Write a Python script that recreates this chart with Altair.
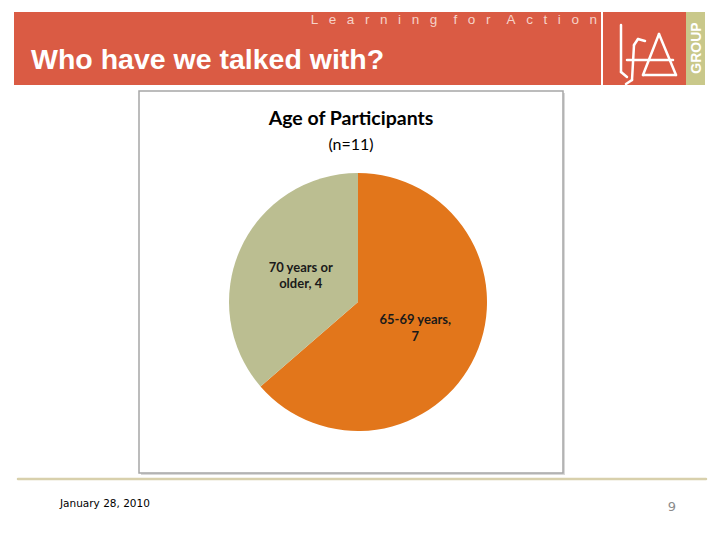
import altair as alt
import pandas as pd

# ---- data ----
categories = ["65-69 years", "70 years or older"]
counts = [7, 4]
labels = ["65-69 years,\n7", "70 years or\nolder, 4"]
colors = ["#E2761B", "#BBBE91"]

slide_title = "Who have we talked with?"
brand = "Learning for Action"
chart_title = "Age of Participants"
chart_subtitle = "(n=11)"
footer_date = "January 28, 2010"
page_no = "9"

pie_df = pd.DataFrame({
    "category": categories,
    "count": counts,
    "label": labels,
    "idx": list(range(len(categories))),
})

dummy = pd.DataFrame({"k": [0]})


def rect(x, x2, y, y2, fill, stroke="", sw=0.0):
    kw = dict(fill=fill)
    if stroke:
        kw["stroke"] = stroke
        kw["strokeWidth"] = sw
    return alt.Chart(dummy).mark_rect(**kw).encode(
        x=alt.value(x), x2=alt.value(x2), y=alt.value(y), y2=alt.value(y2)
    )


def seg(x1, y1, x2, y2, color="white", sw=2.5):
    return alt.Chart(dummy).mark_rule(color=color, strokeWidth=sw, strokeCap="round").encode(
        x=alt.value(x1 - 8), y=alt.value(y1 - 8), x2=alt.value(x2 - 8), y2=alt.value(y2 - 8)
    )


def txt(text, x, y, **kw):
    return alt.Chart(dummy).mark_text(text=text, **kw).encode(
        x=alt.value(x - 8), y=alt.value(y - 8)
    )


spaced_brand = "\u2002\u2002\u2009".join(
    "\u2002\u2009\u200a".join(list(w)) for w in brand.split(" ")
)

layers = [
    # header band
    rect(14 - 8, 601 - 8, 12 - 8, 85 - 8, "#DA5B44"),
    rect(603 - 8, 686 - 8, 12 - 8, 85 - 8, "#DA5B44"),
    rect(686 - 8, 705 - 8, 12 - 8, 85 - 8, "#C9C88A"),
    txt(spaced_brand, 597, 24, align="right", baseline="alphabetic", fontSize=13.5,
        font="Liberation Sans", color="#F6D3C9"),
    txt(slide_title, 31, 69, align="left", baseline="alphabetic", fontSize=28.5,
        font="Liberation Sans", fontWeight="bold", color="white"),
    txt("GROUP", 701, 48, align="center", baseline="alphabetic", angle=270,
        fontSize=14, font="Liberation Sans", fontWeight="bold", color="white"),
    # logo strokes
    seg(621, 25, 621, 72),
    seg(621, 72, 627, 77),
    seg(645, 41, 638, 39),
    seg(638, 39, 634, 45),
    seg(634, 45, 632, 80),
    seg(632, 80, 626, 84),
    seg(627, 60, 673, 60),
    seg(659, 34, 643, 75),
    seg(643, 75, 676, 75),
    seg(676, 75, 659, 34),
    # chart box with shadow
    rect(141 - 8, 565 - 8, 93 - 8, 475 - 8, "#D9D9D9"),
    rect(139 - 8, 563 - 8, 91 - 8, 473 - 8, "white", stroke="#A6A6A6", sw=1.5),
    txt(chart_title, 351, 125, align="center", baseline="alphabetic", fontSize=19.5,
        font="Lato", fontWeight="bold", color="#000000"),
    txt(chart_subtitle, 351, 150, align="center", baseline="alphabetic", fontSize=16,
        font="Lato", color="#000000"),
    # footer
    seg(18, 479, 706, 479, color="#D8D0AC", sw=2.5),
    txt(footer_date, 60, 507, align="left", baseline="alphabetic", fontSize=10.5,
        font="DejaVu Sans", color="#000000"),
    txt(page_no, 672, 511, align="center", baseline="alphabetic", fontSize=13,
        font="DejaVu Sans", color="#8C8C8C"),
]

theta = alt.Theta("count:Q", stack=True)
order = alt.Order("idx:Q")

pie = alt.Chart(pie_df).mark_arc(outerRadius=129).encode(
    theta=theta,
    order=order,
    color=alt.Color("category:N", scale=alt.Scale(domain=categories, range=colors), legend=None),
    x=alt.value(358 - 8),
    y=alt.value(302 - 8),
)

pie_text = alt.Chart(pie_df).mark_text(
    radius=63, lineBreak="\n", fontSize=13, font="Lato", fontWeight="bold",
    color="#1A1A1A", lineHeight=16.5, dy=-8
).encode(
    theta=theta,
    order=order,
    text="label:N",
    x=alt.value(358 - 8),
    y=alt.value(302 - 8),
)

layers += [pie, pie_text]

chart = alt.layer(*layers).properties(
    width=704, height=524, padding=0, autosize="none", background="white"
).configure_view(stroke=None)

chart.save("out.html", embed_options={"renderer": "svg", "actions": False})
